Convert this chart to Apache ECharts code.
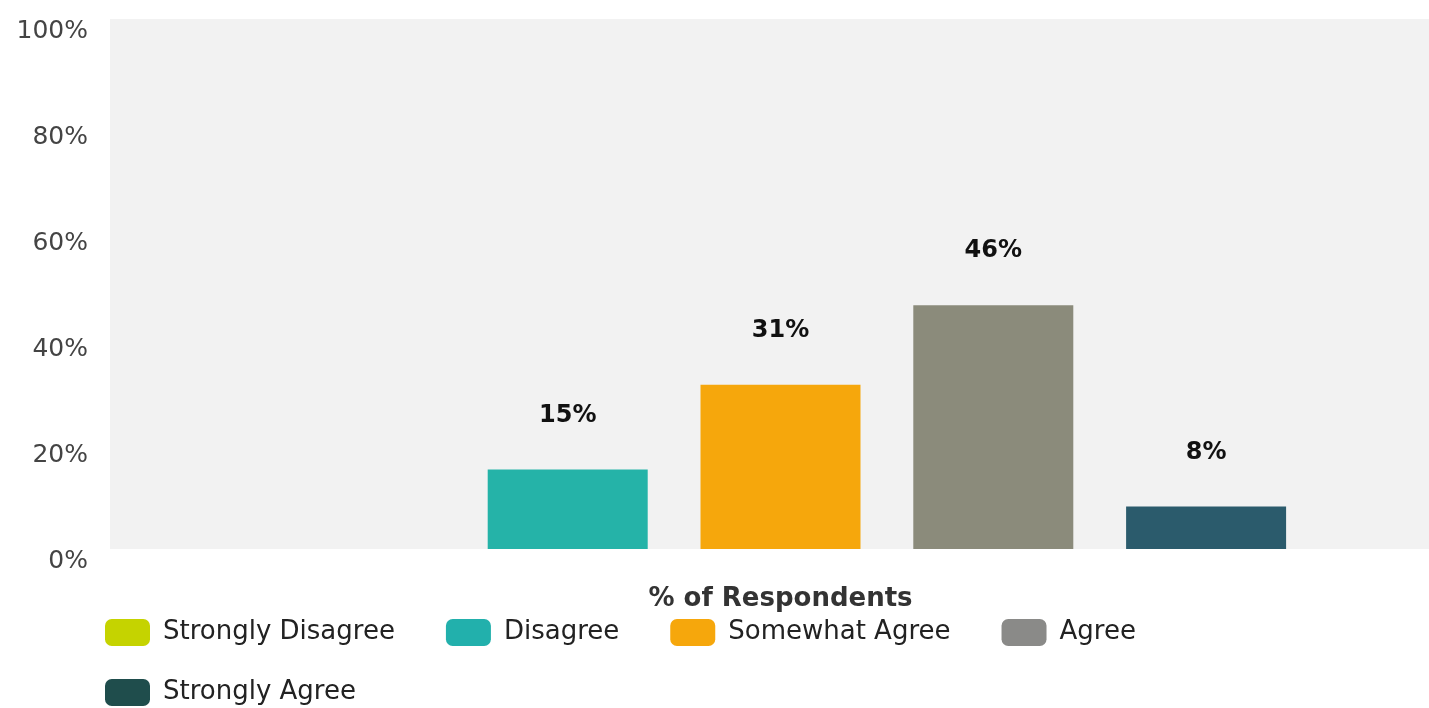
<!DOCTYPE html>
<html>
<head>
<meta charset="utf-8">
<script src="https://cdn.jsdelivr.net/npm/echarts@6/dist/echarts.min.js"></script>
<style>
  html, body { margin: 0; padding: 0; background: #fff; overflow: hidden; }
  #chart { width: 1451px; height: 708px; }
</style>
</head>
<body>
<div id="chart"></div>
<script>
var categories = ['% of Respondents'];
var seriesNames = ['Strongly Disagree', 'Disagree', 'Somewhat Agree', 'Agree', 'Strongly Agree'];
var seriesValues = [0, 15, 31, 46, 8];
var seriesColors = ['#c5d300', '#25b3a8', '#f6a70c', '#8b8b7b', '#2b5b6c'];
var legendColors = ['#c5d300', '#22b0ac', '#f6a70c', '#8a8a88', '#1f4d4c'];
var yTicks = [0, 20, 40, 60, 80, 100];

var chart = echarts.init(document.getElementById('chart'));

// one bar per answer, all in the single category
var series = seriesNames.map(function (name, i) {
    return {
        name: name,
        type: 'bar',
        barWidth: 160,
        barGap: '33%',
        itemStyle: { color: seriesColors[i] },
        label: {
            show: true,
            position: 'top',
            distance: 42,
            fontFamily: 'DejaVu Sans',
            fontWeight: 'bold',
            fontSize: 24,
            color: '#111',
            formatter: function (p) { return p.value ? p.value + '%' : ''; }
        },
        data: [seriesValues[i]]
    };
});

var legendItems = seriesNames.map(function (n, i) {
    return { name: n, itemStyle: { color: legendColors[i] } };
});

function makeLegend(items, top) {
    return {
        left: 100,
        top: top,
        itemWidth: 45,
        itemHeight: 27,
        itemGap: 51,
        data: items,
        textStyle: {
            fontFamily: 'DejaVu Sans',
            fontSize: 26,
            color: '#222',
            padding: [0, 0, 0, 8]
        }
    };
}

var option = {
    animation: false,
    grid: {
        left: 110,
        right: 0,
        top: 19,
        bottom: 159,
        show: true,
        backgroundColor: '#f2f2f2',
        borderWidth: 0
    },
    // second row of the legend is its own component so rows sit closer
    legend: [
        makeLegend(legendItems.slice(0, 4), 614),
        makeLegend(legendItems.slice(4), 674)
    ],
    xAxis: {
        type: 'category',
        data: categories,
        axisLine: { show: false },
        axisTick: { show: false },
        axisLabel: {
            margin: 37,
            fontFamily: 'DejaVu Sans',
            fontWeight: 'bold',
            fontSize: 26,
            color: '#333'
        }
    },
    yAxis: {
        type: 'value',
        min: yTicks[0],
        max: yTicks[yTicks.length - 1],
        interval: 20,
        axisLine: { show: false },
        axisTick: { show: false },
        splitLine: { show: false },
        axisLabel: {
            margin: 22,
            verticalAlign: 'top',
            fontFamily: 'DejaVu Sans',
            fontSize: 25,
            color: '#444',
            formatter: '{value}%'
        }
    },
    series: series
};

chart.setOption(option);
</script>
</body>
</html>
